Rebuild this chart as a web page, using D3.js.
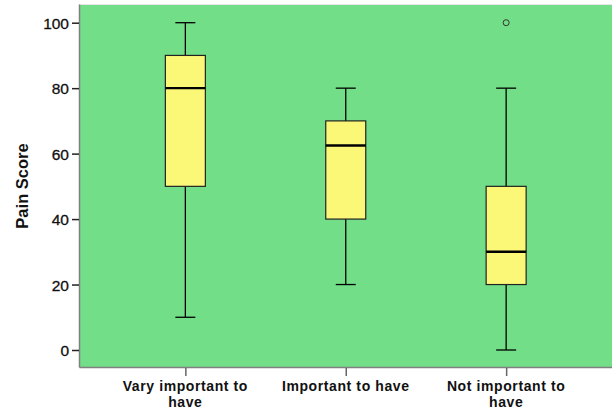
<!DOCTYPE html>
<html><head><meta charset="utf-8">
<script src="https://cdn.jsdelivr.net/npm/d3@7"></script>
<style>body{margin:0;background:#fff}svg{display:block}</style>
</head><body>
<script>
const categories = [["Vary important to","have"],["Important to have"],["Not important to","have"]];
const whiskerLow = [10, 20, 0];
const q1 = [50, 40, 20];
const median = [80, 62.5, 30];
const q3 = [90, 70, 50];
const whiskerHigh = [100, 80, 80];
const outliers = [[], [], [100]];
const yTicks = [0, 20, 40, 60, 80, 100];

const W = 613, H = 414;
const plot = {left: 79.5, right: 612, top: 4.5, bottom: 367.5};
const svg = d3.select("body").append("svg").attr("width", W).attr("height", H);

const x = d3.scalePoint().domain(d3.range(categories.length))
  .range([plot.left, plot.right]).padding(0.66);
const y = d3.scaleLinear().domain([0, 100]).range([350, 22.7]);

svg.append("rect").attr("x", plot.left).attr("y", plot.top)
  .attr("width", plot.right - plot.left).attr("height", plot.bottom - plot.top)
  .attr("fill", "#72DE88");
svg.append("line").attr("x1", plot.left).attr("x2", plot.right).attr("y1", plot.top).attr("y2", plot.top)
  .attr("stroke", "#e6e6e6").attr("stroke-width", 1);
svg.append("line").attr("x1", plot.left).attr("x2", plot.right).attr("y1", plot.bottom).attr("y2", plot.bottom)
  .attr("stroke", "#808080").attr("stroke-width", 1.5);
svg.append("line").attr("x1", plot.left).attr("x2", plot.left).attr("y1", plot.top).attr("y2", plot.bottom)
  .attr("stroke", "#808080").attr("stroke-width", 1.5);

// y axis
const yAxis = d3.axisLeft(y).tickValues(yTicks).tickSize(7).tickPadding(3);
const ya = svg.append("g").attr("transform", `translate(${plot.left - 0.5},0)`).call(yAxis);
ya.select(".domain").remove();
ya.selectAll(".tick line").attr("stroke", "#222").attr("stroke-width", 1.5);
ya.selectAll(".tick text").attr("font-family", "Liberation Sans, Arial, sans-serif")
  .attr("font-size", 15.5).attr("fill", "#111").attr("stroke", "#111").attr("stroke-width", 0.3)
  .attr("dy", "0.36em");

// x axis
const xAxis = d3.axisBottom(x).tickSize(8).tickFormat("");
const xa = svg.append("g").attr("transform", `translate(0,${plot.bottom + 0.5})`).call(xAxis);
xa.select(".domain").remove();
xa.selectAll(".tick line").attr("stroke", "#666").attr("stroke-width", 1.5);

categories.forEach((lines, i) => {
  lines.forEach((l, j) => {
    svg.append("text").attr("x", x(i)).attr("y", 391 + j * 16)
      .attr("text-anchor", "middle").attr("font-family", "Liberation Sans, Arial, sans-serif")
      .attr("font-size", 14).attr("font-weight", "bold").attr("letter-spacing", 0.6)
      .attr("fill", "#111").text(l);
  });
});

svg.append("text").attr("transform", `translate(28,186) rotate(-90)`)
  .attr("text-anchor", "middle").attr("font-family", "Liberation Sans, Arial, sans-serif")
  .attr("font-size", 16.5).attr("font-weight", "bold").attr("fill", "#111").text("Pain Score");

const boxW = 40, capW = 20;
categories.forEach((c, i) => {
  const cx = x(i);
  const g = svg.append("g");
  g.append("line").attr("x1", cx).attr("x2", cx).attr("y1", y(whiskerLow[i])).attr("y2", y(q1[i]))
    .attr("stroke", "#000").attr("stroke-width", 1.3);
  g.append("line").attr("x1", cx).attr("x2", cx).attr("y1", y(q3[i])).attr("y2", y(whiskerHigh[i]))
    .attr("stroke", "#000").attr("stroke-width", 1.3);
  [whiskerLow[i], whiskerHigh[i]].forEach(v => {
    g.append("line").attr("x1", cx - capW/2).attr("x2", cx + capW/2).attr("y1", y(v)).attr("y2", y(v))
      .attr("stroke", "#000").attr("stroke-width", 1.3);
  });
  g.append("rect").attr("x", cx - boxW/2).attr("y", y(q3[i])).attr("width", boxW)
    .attr("height", y(q1[i]) - y(q3[i])).attr("fill", "#FBF877").attr("stroke", "#222").attr("stroke-width", 1.2);
  g.append("line").attr("x1", cx - boxW/2).attr("x2", cx + boxW/2).attr("y1", y(median[i])).attr("y2", y(median[i]))
    .attr("stroke", "#000").attr("stroke-width", 2.4);
  outliers[i].forEach(v => {
    g.append("circle").attr("cx", cx).attr("cy", y(v)).attr("r", 3)
      .attr("fill", "none").attr("stroke", "#333").attr("stroke-width", 1);
  });
});
</script>
</body></html>
